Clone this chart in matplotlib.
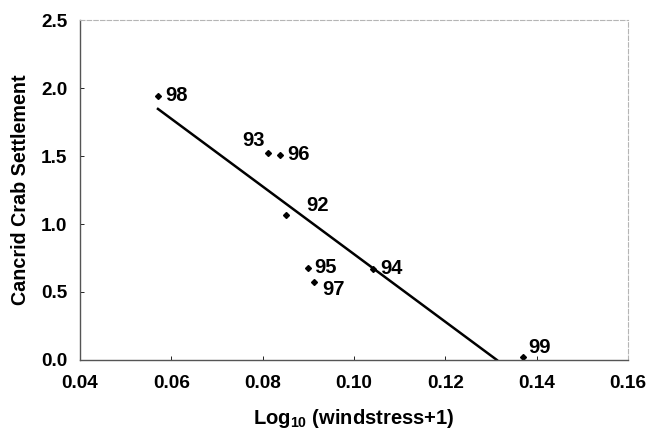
import numpy as np
import matplotlib
matplotlib.use("Agg")
from matplotlib import pyplot as plt

# data
years = ["98", "93", "96", "92", "95", "97", "94", "99"]
log_wind = [0.0571, 0.0812, 0.0838, 0.0851, 0.0899, 0.0913, 0.1042, 0.1370]
settlement = [1.94, 1.52, 1.51, 1.07, 0.68, 0.57, 0.67, 0.02]

# label offsets in pixels (dx, dy, ha)
offsets = {
    "98": (7, 1, "left"), "93": (-3, 13, "right"), "96": (7, 0, "left"),
    "92": (20, 9, "left"), "95": (6, 0, "left"), "97": (8, -7, "left"),
    "94": (7, 0, "left"), "99": (5, 10, "left"),
}

plt.rcParams["font.family"] = ["Liberation Sans", "DejaVu Sans"]
plt.rcParams["font.weight"] = "bold"
plt.rcParams["mathtext.fontset"] = "custom"
plt.rcParams["mathtext.rm"] = "Liberation Sans:bold"
plt.rcParams["mathtext.bf"] = "Liberation Sans:bold"

fig = plt.figure(figsize=(6.49, 4.29), dpi=100)
ax = fig.add_axes([0.123, 0.161, 0.845, 0.792])

ax.plot(log_wind, settlement, "D", color="black", ms=3)

# fitted line (linear regression), drawn from the lowest x until it reaches 0
slope, icpt = np.polyfit(log_wind, settlement, 1)
x0 = min(log_wind)
x1 = -icpt / slope
xs = np.array([x0, x1])
ax.plot(xs, slope * xs + icpt, color="black", lw=1.8)

for yr, x, y in zip(years, log_wind, settlement):
    dx, dy, ha = offsets[yr]
    ax.annotate(yr, (x, y), xytext=(dx, dy), textcoords="offset pixels",
                ha=ha, va="center", fontsize=14.5, fontweight="bold")

ax.set_xlim(0.04, 0.16)
ax.set_ylim(0.0, 2.5)
ax.set_xticks([0.04, 0.06, 0.08, 0.10, 0.12, 0.14, 0.16])
ax.set_yticks([0.0, 0.5, 1.0, 1.5, 2.0, 2.5])
ax.xaxis.set_major_formatter(matplotlib.ticker.FormatStrFormatter("%.2f"))
ax.yaxis.set_major_formatter(matplotlib.ticker.FormatStrFormatter("%.1f"))
ax.tick_params(direction="in", length=3, width=0.6, labelsize=13.7)
ax.tick_params(axis="x", pad=11)
ax.tick_params(axis="y", pad=9)

for s in ["left", "bottom"]:
    ax.spines[s].set_color("#555555")
    ax.spines[s].set_linewidth(1.0)
for s in ["top", "right"]:
    ax.spines[s].set_color("#b5b5b5")
    ax.spines[s].set_linewidth(0.8)
    ax.spines[s].set_linestyle((0, (4, 2)))

ax.set_xlabel(r"Log$_{\mathbf{10}}$ (windstress+1)", fontsize=14.5, fontweight="bold", labelpad=11)
ax.set_ylabel("Cancrid Crab Settlement", fontsize=14.2, fontweight="bold", labelpad=8)

plt.savefig("out.png", dpi=100)
